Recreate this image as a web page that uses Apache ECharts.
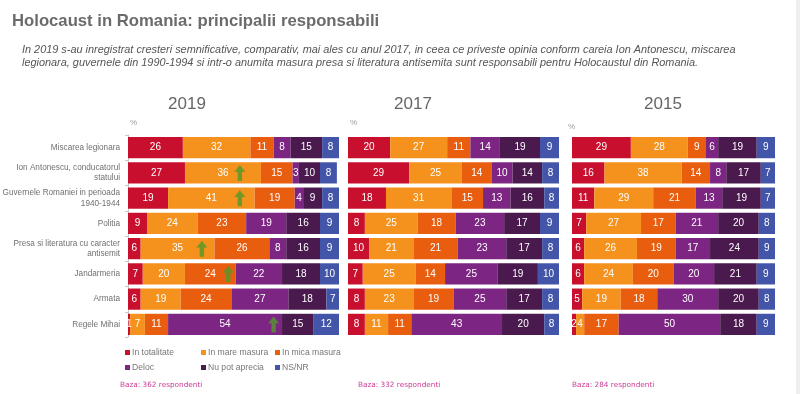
<!DOCTYPE html>
<html><head><meta charset="utf-8">
<script src="https://cdn.jsdelivr.net/npm/echarts@6/dist/echarts.min.js"></script>
<style>html,body{margin:0;padding:0;background:#fff}#c{width:800px;height:394px}</style>
</head><body><div id="c"></div>
<script>
const categories = ["Miscarea legionara","Ion Antonescu, conducatorul\nstatului","Guvernele Romaniei in perioada\n1940-1944","Politia","Presa si literatura cu caracter\nantisemit","Jandarmeria","Armata","Regele Mihai"];
const seriesNames = ["In totalitate","In mare masura","In mica masura","Deloc","Nu pot aprecia","NS/NR"];
const years = ["2019","2017","2015"];
const bases = ["Baza: 362 respondenti","Baza: 332 respondenti","Baza: 284 respondenti"];

const totalitate2019 = [26,27,19,9,6,7,6,1];
const mare2019       = [32,36,41,24,35,20,19,7];
const mica2019       = [11,15,19,23,26,24,24,11];
const deloc2019      = [8,3,4,19,8,22,27,54];
const nupot2019      = [15,10,9,16,16,18,18,15];
const nsnr2019       = [8,8,8,9,9,10,7,12];

const totalitate2017 = [20,29,18,8,10,7,8,8];
const mare2017       = [27,25,31,25,21,25,23,11];
const mica2017       = [11,14,15,18,21,14,19,11];
const deloc2017      = [14,10,13,23,23,25,25,43];
const nupot2017      = [19,14,16,17,17,19,17,20];
const nsnr2017       = [9,8,8,9,8,10,8,8];

const totalitate2015 = [29,16,11,7,6,6,5,2];
const mare2015       = [28,38,29,27,26,24,19,4];
const mica2015       = [9,14,21,17,19,20,18,17];
const deloc2015      = [6,8,13,21,17,20,30,50];
const nupot2015      = [19,17,19,20,24,21,20,18];
const nsnr2015       = [9,7,7,8,9,9,8,9];

// green "increase" arrows in 2019 panel: [x position in %, category index]
const arrows2019 = [[53,1],[53,2],[35,4],[47.5,5],[69,7]];

const colors = ["#c8102e","#f5921e","#e95d0f","#7d2583","#4a1a4e","#4355a8"];
const panels = [
  [totalitate2019,mare2019,mica2019,deloc2019,nupot2019,nsnr2019],
  [totalitate2017,mare2017,mica2017,deloc2017,nupot2017,nsnr2017],
  [totalitate2015,mare2015,mica2015,deloc2015,nupot2015,nsnr2015]
];
const gridLefts = [128,348,572];
const gridWidths = [211,211,203];
const yearCenters = [182,408,658];
const percentLefts = [125,345,563];
const percentTops = [114,114,118];
const baseLefts = [115,353,567];
const legendLefts = [120,196,270];
const legendTops = [343,358];
const font = "Liberation Sans, Arial, sans-serif";

const grid = [], xAxis = [], yAxis = [], series = [], titles = [];
titles.push({text:"Holocaust in Romania: principalii responsabili", left:7, top:8,
  textStyle:{fontFamily:font,fontSize:16.7,fontWeight:"bold",color:"#6b6b6b"}});
titles.push({text:"In 2019 s-au inregistrat cresteri semnificative, comparativ, mai ales cu anul 2017, in ceea ce priveste opinia conform careia Ion Antonescu, miscarea\nlegionara, guvernele din 1990-1994 si intr-o anumita masura presa si literatura antisemita sunt responsabili pentru Holocaustul din Romania.",
  left:17, top:38, textStyle:{fontFamily:font,fontSize:10.9,fontStyle:"italic",fontWeight:"normal",color:"#555",lineHeight:13}});

for (let p=0;p<3;p++){
  grid.push({left:gridLefts[p], width:gridWidths[p], top:135, height:202, containLabel:false, outerBoundsMode:"none"});
  xAxis.push({type:"value", gridIndex:p, min:0, max:100, show:false});
  yAxis.push({type:"category", gridIndex:p, data:categories, inverse:true,
    axisLine:{show:p===0, lineStyle:{color:"#c8c8c8"}},
    axisTick:{show:p===0, length:3, lineStyle:{color:"#c8c8c8"}},
    axisLabel:{show:p===0, fontFamily:font, fontSize:8.2, color:"#707070", lineHeight:10.5, margin:8}});
  titles.push({text:years[p], left:yearCenters[p], top:91, textAlign:"center",
    textStyle:{fontFamily:font,fontSize:17,fontWeight:"normal",color:"#666"}});
  titles.push({text:"%", left:percentLefts[p], top:percentTops[p], textStyle:{fontFamily:font,fontSize:8,fontWeight:"normal",color:"#999"}});
  titles.push({text:bases[p], left:baseLefts[p], top:377, textStyle:{fontFamily:"DejaVu Sans, sans-serif",fontSize:7.3,fontWeight:"normal",color:"#cc3b95"}});
  for (let s=0;s<6;s++){
    series.push({type:"bar", name:seriesNames[s], xAxisIndex:p, yAxisIndex:p, stack:"p"+p,
      data:panels[p][s], barWidth:"84%", itemStyle:{color:colors[s]},
      label:{show:true, position:"inside", color:"#fff", fontFamily:font, fontSize:10},
      emphasis:{disabled:true}});
  }
}
series.push({type:"scatter", xAxisIndex:0, yAxisIndex:0, data:arrows2019,
  symbol:"path://M5,0 L10,6 L7,6 L7,14 L3,14 L3,6 L0,6 Z", symbolSize:[11,16],
  itemStyle:{color:"#4f9a2c"}, z:10, silent:true});

const legends = seriesNames.map((n,i)=>({
  left:legendLefts[i%3], top:legendTops[Math.floor(i/3)], data:[n],
  icon:"rect", itemWidth:5, itemHeight:5, selectedMode:false,
  textStyle:{fontFamily:font,fontSize:8.6,color:"#777",padding:[0,0,0,-3]}
}));

const chart = echarts.init(document.getElementById("c"), null, {renderer:"canvas"});
chart.setOption({
  animation:false,
  color:colors,
  title:titles,
  grid, xAxis, yAxis, series,
  legend:legends,
  graphic:[{type:"rect", shape:{x:796,y:0,width:4,height:394}, style:{fill:"#efefef"}, silent:true}]
});
</script></body></html>
